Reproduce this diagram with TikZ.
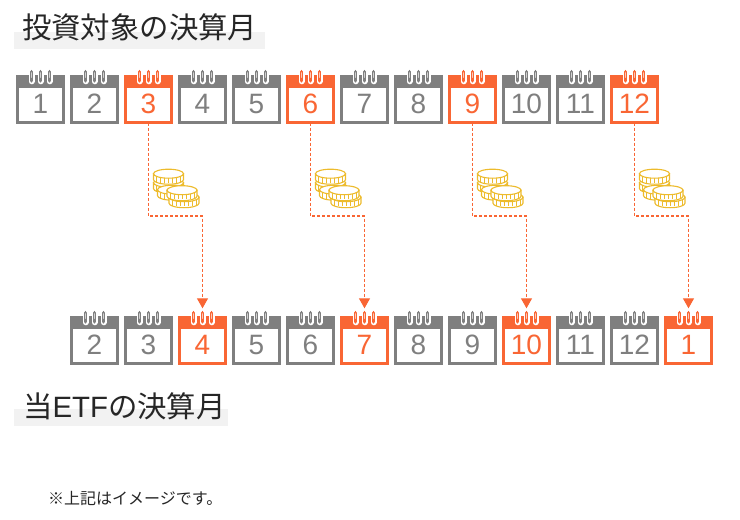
\documentclass[tikz,border=0pt]{standalone}
\usepackage{fontspec}
\setmainfont{Liberation Sans}
\newfontfamily\jpfont{Noto Sans CJK JP}
\usetikzlibrary{arrows.meta,calc}
\definecolor{calgray}{HTML}{7F7F7F}
\definecolor{calorange}{HTML}{F96634}
\definecolor{coingold}{HTML}{EDBB2C}
\definecolor{bandgray}{HTML}{F2F2F2}
\tikzset{
	calbody/.style={draw, fill=white, line width=2.6pt, minimum width=46.4pt, minimum height=46.4pt, inner sep=0pt, outer sep=0pt, text height=27pt, text depth=0pt, font=\fontsize{28}{30}\selectfont},
	ringhalo/.style={white, line width=6pt, line cap=round},
	ringbar/.style={line width=3.8pt, line cap=round},
	ringcore/.style={line width=1.2pt, line cap=round},
	titleband/.style={fill=bandgray, inner sep=0pt, outer sep=0pt, anchor=north west},
	titletext/.style={anchor=west, inner sep=0pt, text=black!85, font=\jpfont\fontsize{29.4}{32}\selectfont},
	notetext/.style={anchor=west, inner sep=0pt, text=black!85, font=\jpfont\fontsize{16}{18}\selectfont},
	paylink/.style={calorange, line width=1.2pt, dash pattern=on 3pt off 2pt, shorten >=9pt, -{Triangle[width=11pt,length=10pt]}},
	coin/.pic={
		\filldraw[coingold, fill=white, line width=1.1pt] (-15,0) -- (-15,6) arc[start angle=180, end angle=360, x radius=15pt, y radius=4.5pt] -- (15,0) -- cycle;
		\foreach \a in {-12,-8,-4,0,4,8,12}
			\draw[coingold, line width=0.9pt] (\a,2) -- (\a,9);
		\filldraw[coingold, fill=white, line width=1.1pt] (0,0) ellipse [x radius=15pt, y radius=4.5pt];
	},
}
\newcommand{\calmonth}[4]{
	\node[calbody, draw=#3, text=#3] (#1) at #2 {#4};
	\filldraw[#3, line width=1pt] ($(#1.north west)+(-0.7,0)$) rectangle ($(#1.north east)+(0.7,11)$);
	\foreach \r in {-9,0,9} {
		\draw[ringhalo] ($(#1.north)+(\r,-2)$) -- ($(#1.north)+(\r,5)$);
		\draw[ringbar, #3] ($(#1.north)+(\r,-4.5)$) -- ($(#1.north)+(\r,4.5)$);
		\draw[ringcore, #3!35!white] ($(#1.north)+(\r,-3.5)$) -- ($(#1.north)+(\r,1)$);
	}
}
\begin{document}
\begin{tikzpicture}[x=1pt,y=-1pt]
	\useasboundingbox (0,0) rectangle (740,520);
	% titles
	\node[titleband, minimum width=251pt, minimum height=17pt] (topband) at (14,32) {};
	\node[titletext] (toptitle) at (22,27) {投資対象の決算月};
	\node[titleband, minimum width=214pt, minimum height=17pt] (lowband) at (14,409) {};
	\node[titletext] (lowtitle) at (23,406) {当{\rmfamily ETF}の決算月};
	\node[notetext] (note) at (48,498) {※上記はイメージです。};

	% top row
	\foreach \n in {1,...,12} {
		\pgfmathparse{mod(\n,3)==0 ? "calorange" : "calgray"}
		\edef\calcol{\pgfmathresult}
		\calmonth{src\n}{(16+54*\n-54+24.5,99.5)}{\calcol}{\n}
	}
	% bottom row
	\foreach \n [count=\i] in {2,...,12,1} {
		\pgfmathparse{mod(\n-1,3)==0 ? "calorange" : "calgray"}
		\edef\calcol{\pgfmathresult}
		\calmonth{dst\n}{(70+54*\i-54+24.5,340.5)}{\calcol}{\n}
	}

	% links and coins
	\foreach \a/\b in {3/4,6/7,9/10,12/1} {
		\coordinate (turn\a) at ($(src\a.south)!0.5!(dst\b.north)$);
		\draw[paylink] (src\a.south) |- (turn\a |- 0,216) -| (dst\b.north);
		\begin{scope}[shift={(src\a.south)}]
			\pic at (20,60) {coin};
			\pic at (24,67) {coin};
			\pic at (20,51) {coin};
			\pic at (35.5,74.5) {coin};
			\pic at (33.5,67.5) {coin};
		\end{scope}
	}
\end{tikzpicture}
\end{document}
